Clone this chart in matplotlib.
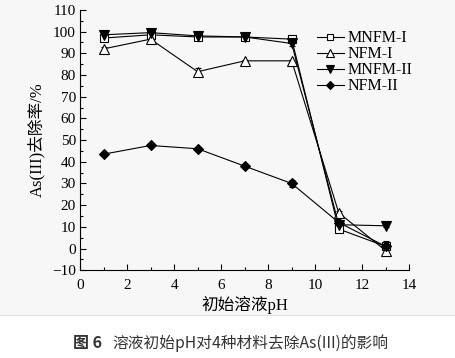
import matplotlib
matplotlib.use("Agg")
import matplotlib.pyplot as plt
from matplotlib.patches import Rectangle
from matplotlib.lines import Line2D

plt.rcParams['font.family'] = ['Liberation Serif', 'Noto Sans CJK SC']
plt.rcParams['font.size'] = 10

ph = [1, 3, 5, 7, 9, 11, 13]

mnfm1 = [97, 98.5, 97.5, 97.5, 96.5, 9, 1]
mnfm1_err = [0.8, 0.8, 0.8, 0.8, 1.5, 1.0, 1.5]
nfm1 = [92, 96.5, 81.5, 86.5, 86.5, 16.5, -1]
nfm1_err = [1.0, 0.8, 1.5, 0.5, 0.5, 1.0, 1.5]
mnfm2 = [98.5, 99.5, 98, 97.5, 94.5, 11, 10.5]
mnfm2_err = [0.5, 0.5, 0.5, 0.5, 1.0, 1.0, 0.5]
nfm2 = [43.5, 47.5, 46, 38, 30, 12, 1]
nfm2_err = [0.5, 0.5, 0.5, 0.5, 1.5, 1.0, 2.5]

labels = ['MNFM-I', 'NFM-I', 'MNFM-II', 'NFM-II']

bg = '#f7f7f7'
fig = plt.figure(figsize=(4.56, 3.58), dpi=100)
fig.patch.set_facecolor('white')
fig.patches.append(Rectangle((0, 0.12), 1, 0.88, transform=fig.transFigure,
                             facecolor=bg, edgecolor='none', zorder=-10))
fig.add_artist(Line2D([0, 1], [0.12, 0.12], transform=fig.transFigure,
                      color='#dde3e8', lw=0.8))

ax = fig.add_axes([0.1754, 0.245, 0.7222, 0.7275])
ax.set_facecolor(bg)

series = [
    (mnfm1, mnfm1_err, 's', 'white', 5.5),
    (nfm1, nfm1_err, '^', 'white', 7),
    (mnfm2, mnfm2_err, 'v', 'black', 7.5),
    (nfm2, nfm2_err, 'D', 'black', 5.5),
]
handles = []
for (vals, err, m, fc, ms), lab in zip(series, labels):
    ax.errorbar(ph, vals, yerr=err, color='black', lw=0.8, marker=m,
                markersize=ms, markerfacecolor=fc, markeredgecolor='black',
                markeredgewidth=0.8, capsize=2, elinewidth=0.7)
    handles.append(Line2D([], [], color='black', lw=0.8, marker=m,
                          markersize=ms * 0.8, markerfacecolor=fc,
                          markeredgecolor='black', markeredgewidth=0.8,
                          label=lab))

ax.set_xlim(0, 14)
ax.set_ylim(-10, 110)
ax.set_xticks(range(0, 15, 2))
ax.set_xticks(range(1, 15, 2), minor=True)
ax.set_yticks(range(-10, 111, 10))
ax.set_yticks(range(-5, 111, 10), minor=True)
ax.set_yticklabels(['\u221210'] + [str(v) for v in range(0, 111, 10)])
ax.tick_params(direction='in', length=4, width=0.8, labelsize=11)
ax.tick_params(axis='x', pad=6)
ax.tick_params(axis='y', pad=3)
ax.tick_params(which='minor', direction='in', length=2.5, width=0.8)
for s in ['top', 'right']:
    ax.spines[s].set_visible(False)
for s in ['left', 'bottom']:
    ax.spines[s].set_linewidth(0.8)

ax.set_xlabel('初始溶液pH', fontsize=12, labelpad=3)
ax.set_ylabel('As(III)去除率/%', fontsize=12, labelpad=5)

ax.legend(handles=handles, loc='upper left', bbox_to_anchor=(0.685, 0.965),
          frameon=False, fontsize=11.5, handlelength=1.7, handletextpad=0.2,
          labelspacing=0.0, borderpad=0.2)

cap_font = ['Noto Sans CJK SC', 'DejaVu Sans']
fig.text(0.16, 0.042, '图 6', fontsize=11.5, fontweight='bold', color='#333333',
         family=cap_font, ha='left', va='center')
fig.text(0.247, 0.042, '溶液初始pH对4种材料去除As(III)的影响', fontsize=11.3,
         color='#333333', family=cap_font, ha='left', va='center')

fig.savefig('out.png', dpi=100, facecolor=fig.get_facecolor())
